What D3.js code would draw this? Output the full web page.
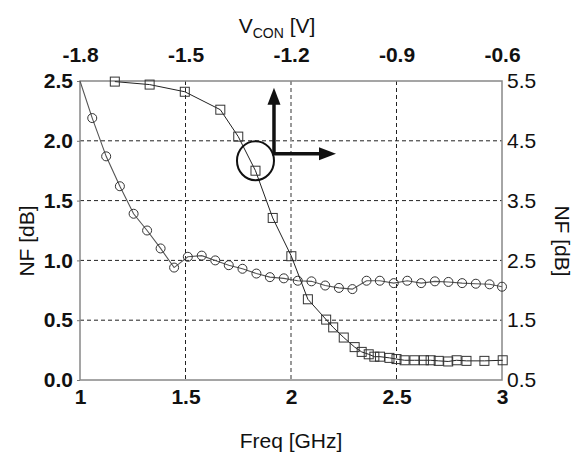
<!DOCTYPE html>
<html>
<head>
<meta charset="utf-8">
<script src="https://cdn.jsdelivr.net/npm/d3@7"></script>
<style>
  body { margin: 0; background: #fff; }
  svg { display: block; font-family: "Liberation Sans", Arial, sans-serif; }
</style>
</head>
<body>
<div id="chart"></div>
<script>
'use strict';

// NF vs frequency (circles, bottom / left axes)
const freqGHz = [1.00, 1.058, 1.124, 1.189, 1.254, 1.318, 1.382, 1.446, 1.511, 1.577, 1.641,
  1.705, 1.770, 1.836, 1.900, 1.966, 2.032, 2.097, 2.162, 2.227, 2.291, 2.358, 2.421,
  2.487, 2.551, 2.617, 2.682, 2.746, 2.811, 2.876, 2.941, 3.00];
const nfFreq = [2.50, 2.19, 1.87, 1.62, 1.39, 1.25, 1.10, 0.94, 1.03, 1.04, 1.00,
  0.96, 0.93, 0.89, 0.86, 0.85, 0.83, 0.825, 0.79, 0.77, 0.76, 0.83, 0.83,
  0.81, 0.83, 0.81, 0.825, 0.82, 0.81, 0.805, 0.80, 0.78];

// NF vs control voltage (squares, top / right axes)
const vcon = [-1.701, -1.602, -1.502, -1.401, -1.350, -1.301, -1.252, -1.199, -1.152,
  -1.100, -1.080, -1.050, -1.019, -0.999, -0.979, -0.963, -0.947, -0.920, -0.900,
  -0.877, -0.849, -0.822, -0.803, -0.780, -0.753, -0.729, -0.701, -0.650, -0.598];
const nfVcon = [5.49, 5.44, 5.32, 5.02, 4.57, 4.00, 3.21, 2.57, 1.85,
  1.51, 1.38, 1.21, 1.05, 0.97, 0.93, 0.89, 0.89, 0.87, 0.85,
  0.83, 0.83, 0.83, 0.83, 0.82, 0.81, 0.83, 0.82, 0.82, 0.83];

const freqTicks = [1, 1.5, 2, 2.5, 3];
const vconTicks = [-1.8, -1.5, -1.2, -0.9, -0.6];
const nfLeftTicks = [0, 0.5, 1.0, 1.5, 2.0, 2.5];
const nfRightTicks = [0.5, 1.5, 2.5, 3.5, 4.5, 5.5];

// the square point that the annotation circle marks
const markedIndex = 5;

const width = 583;
const height = 457;
const margin = {top: 81, right: 81, bottom: 77, left: 80};

const svg = d3.select("#chart").append("svg")
    .attr("width", width)
    .attr("height", height);

const x = d3.scaleLinear().domain([1, 3]).range([margin.left, width - margin.right]);
const xTop = d3.scaleLinear().domain([-1.8, -0.6]).range([margin.left, width - margin.right]);
const yLeft = d3.scaleLinear().domain([0, 2.5]).range([height - margin.bottom, margin.top]);
const yRight = d3.scaleLinear().domain([0.5, 5.5]).range([height - margin.bottom, margin.top]);

const x0 = margin.left, x1 = width - margin.right;
const y0 = margin.top, y1 = height - margin.bottom;

// plain hyphen minus, like the original figure
const fmt1 = d => d.toFixed(1);

// grid lines
svg.append("g")
  .selectAll("line")
  .data(nfLeftTicks.filter(d => d > 0 && d < 2.5))
  .join("line")
    .attr("x1", x0).attr("x2", x1)
    .attr("y1", d => yLeft(d)).attr("y2", d => yLeft(d))
    .attr("stroke", "#222")
    .attr("stroke-width", 1)
    .attr("stroke-dasharray", "4,3");

svg.append("g")
  .selectAll("line")
  .data(freqTicks.filter(d => d > 1 && d < 3))
  .join("line")
    .attr("x1", d => x(d)).attr("x2", d => x(d))
    .attr("y1", y0).attr("y2", y1)
    .attr("stroke", d => d == 2 ? "#999" : "#222")
    .attr("stroke-width", d => d == 2 ? 2 : 1)
    .attr("stroke-dasharray", "4,3");

// frame
svg.append("rect")
    .attr("x", x0).attr("y", y0)
    .attr("width", x1 - x0).attr("height", y1 - y0)
    .attr("fill", "none")
    .attr("stroke", "#888")
    .attr("stroke-width", 1.5);

// axes
const styleAxis = (g, weight) => {
  g.select(".domain").remove();
  g.selectAll("text")
    .attr("font-size", 21)
    .attr("font-weight", weight)
    .attr("font-family", "Liberation Sans, Arial, sans-serif")
    .attr("fill", "#111");
  g.selectAll(".tick line").attr("stroke", "#777");
};

svg.append("g")
    .attr("transform", `translate(0,${y1})`)
    .call(d3.axisBottom(x).tickValues(freqTicks).tickFormat(d => String(d)).tickSize(0).tickPadding(9))
    .call(g => styleAxis(g, "bold"));

svg.append("g")
    .attr("transform", `translate(0,${y0})`)
    .call(d3.axisTop(xTop).tickValues(vconTicks).tickFormat(fmt1).tickSize(0).tickPadding(19))
    .call(g => styleAxis(g, "bold"));

svg.append("g")
    .attr("transform", `translate(${x0},0)`)
    .call(d3.axisLeft(yLeft).tickValues(nfLeftTicks).tickFormat(fmt1).tickSize(3).tickPadding(4))
    .call(g => styleAxis(g, "bold"));

svg.append("g")
    .attr("transform", `translate(${x1},0)`)
    .call(d3.axisRight(yRight).tickValues(nfRightTicks).tickFormat(fmt1).tickSize(0).tickPadding(5))
    .call(g => styleAxis(g, "normal"));

// axis titles
svg.append("text")
    .attr("x", (x0 + x1) / 2)
    .attr("y", 448)
    .attr("text-anchor", "middle")
    .attr("font-size", 21)
    .attr("fill", "#111")
    .text("Freq [GHz]");

const topTitle = svg.append("text")
    .attr("x", 277)
    .attr("y", 33)
    .attr("text-anchor", "middle")
    .attr("font-size", 21)
    .attr("fill", "#111");
topTitle.append("tspan").text("V");
topTitle.append("tspan").attr("font-size", 14).attr("dy", 5).text("CON");
topTitle.append("tspan").attr("dy", -5).text(" [V]");

svg.append("text")
    .attr("transform", `translate(34,241) rotate(-90)`)
    .attr("text-anchor", "middle")
    .attr("font-size", 21)
    .attr("fill", "#111")
    .text("NF [dB]");

svg.append("text")
    .attr("transform", `translate(555,241) rotate(90)`)
    .attr("text-anchor", "middle")
    .attr("font-size", 21)
    .attr("fill", "#111")
    .text("NF [dB]");

// circle series: NF vs freq
const freqPts = freqGHz.map((f, i) => ({f: f, nf: nfFreq[i]}));

svg.append("path")
    .datum(freqPts)
    .attr("fill", "none")
    .attr("stroke", "#555")
    .attr("stroke-width", 1.1)
    .attr("d", d3.line().x(d => x(d.f)).y(d => yLeft(d.nf)));

svg.append("g")
  .selectAll("circle")
  .data(freqPts.slice(1))
  .join("circle")
    .attr("cx", d => x(d.f))
    .attr("cy", d => yLeft(d.nf))
    .attr("r", 4.5)
    .attr("fill", "none")
    .attr("stroke", "#333")
    .attr("stroke-width", 1);

// square series: NF vs V_CON
const vconPts = vcon.map((v, i) => ({v: v, nf: nfVcon[i]}));

svg.append("path")
    .datum(vconPts)
    .attr("fill", "none")
    .attr("stroke", "#222")
    .attr("stroke-width", 1)
    .attr("d", d3.line().x(d => xTop(d.v)).y(d => yRight(d.nf)));

svg.append("g")
  .selectAll("rect")
  .data(vconPts)
  .join("rect")
    .attr("x", d => xTop(d.v) - 4.5)
    .attr("y", d => yRight(d.nf) - 4.5)
    .attr("width", 9)
    .attr("height", 9)
    .attr("fill", "none")
    .attr("stroke", "#333")
    .attr("stroke-width", 1);

// annotation: circle round a square, arrows to top and right axes
const mk = vconPts[markedIndex];
const cx = xTop(mk.v), cy = yRight(mk.nf) - 10;
const rx = 18.5, ry = 19.5;

svg.append("ellipse")
    .attr("cx", cx).attr("cy", cy)
    .attr("rx", rx).attr("ry", ry)
    .attr("fill", "none")
    .attr("stroke", "#111")
    .attr("stroke-width", 2);

const ax = cx + rx, ay = cy - 7;
const arrows = svg.append("g").attr("fill", "#111").attr("stroke", "#111");

arrows.append("line")
    .attr("x1", ax).attr("y1", ay).attr("x2", ax).attr("y2", ay - 52)
    .attr("stroke-width", 3.5);
arrows.append("path")
    .attr("stroke", "none")
    .attr("d", `M${ax},${ay - 66}L${ax - 6.5},${ay - 49}L${ax + 6.5},${ay - 49}Z`);

arrows.append("line")
    .attr("x1", ax - 1.75).attr("y1", ay).attr("x2", ax + 48).attr("y2", ay)
    .attr("stroke-width", 3.5);
arrows.append("path")
    .attr("stroke", "none")
    .attr("d", `M${ax + 62},${ay}L${ax + 45},${ay - 6.5}L${ax + 45},${ay + 6.5}Z`);
</script>
</body>
</html>
